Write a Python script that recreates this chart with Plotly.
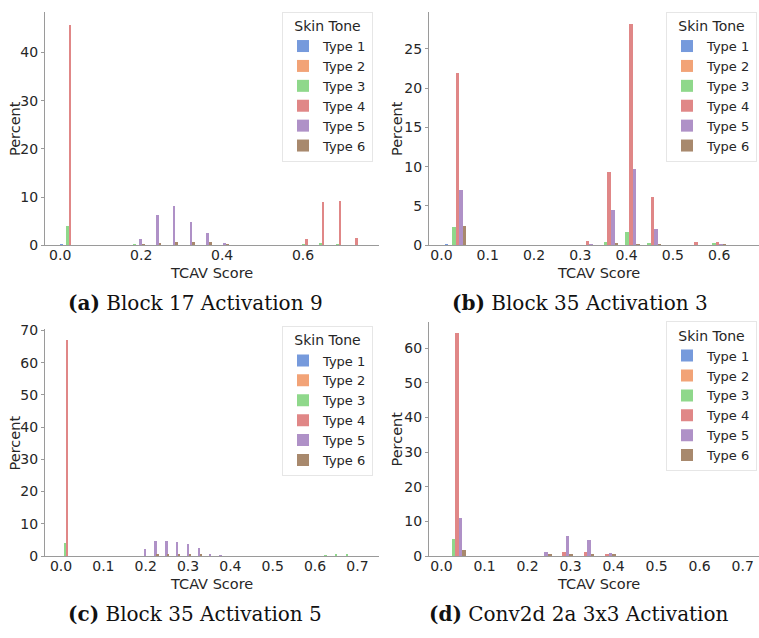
import numpy as np
import plotly.graph_objects as go

TYPES = ["Type 1", "Type 2", "Type 3", "Type 4", "Type 5", "Type 6"]
# seaborn "muted" palette drawn at alpha 0.75 on white
COLORS = ["#769adc", "#f2a377", "#8fd88b", "#e08787", "#af91c7", "#a8896d"]

# ---- Panel (a): Block 17 Activation 9 (18 bins) ----
A_START, A_WIDTH = 0.0, 0.04167
A_T1 = [0.2, 0, 0, 0, 0, 0, 0, 0, 0, 0, 0, 0, 0, 0, 0, 0, 0, 0]
A_T2 = [0, 0, 0, 0, 0, 0, 0, 0, 0, 0, 0, 0, 0, 0, 0, 0, 0, 0]
A_T3 = [4.1, 0, 0, 0, 0.1, 0, 0, 0, 0, 0, 0, 0, 0, 0, 0.2, 0.4, 0.3, 0]
A_T4 = [45.8, 0, 0, 0, 0, 0, 0, 0, 0, 0, 0, 0, 0, 0, 1.3, 9.0, 9.3, 1.5]
A_T5 = [0, 0, 0, 0, 1.3, 6.3, 8.1, 4.9, 2.5, 0.4, 0, 0, 0, 0, 0, 0, 0, 0]
A_T6 = [0, 0, 0, 0, 0.15, 0.5, 0.8, 0.6, 0.6, 0.2, 0, 0, 0, 0, 0, 0, 0, 0]

# ---- Panel (b): Block 35 Activation 3 (14 bins) ----
B_START, B_WIDTH = 0.0073, 0.0468
B_T1 = [0.1, 0, 0, 0, 0, 0, 0, 0, 0, 0, 0, 0, 0, 0]
B_T2 = [0, 0, 0, 0, 0, 0, 0, 0, 0, 0, 0, 0, 0, 0]
B_T3 = [2.3, 0, 0, 0, 0, 0, 0, 0.4, 1.7, 0.3, 0, 0, 0.25, 0]
B_T4 = [22.0, 0, 0, 0, 0, 0, 0.5, 9.3, 28.2, 6.2, 0, 0.4, 0.4, 0]
B_T5 = [7.0, 0, 0, 0, 0, 0, 0.2, 4.5, 9.7, 2.1, 0, 0, 0.15, 0]
B_T6 = [2.5, 0, 0, 0, 0, 0, 0, 0.3, 0.15, 0.05, 0, 0, 0.1, 0]

# ---- Panel (c): Block 35 Activation 5 (28 bins) ----
C_START, C_WIDTH = 0.0, 0.0256
C_T1 = [0] * 28
C_T2 = [0] * 28
C_T3 = [4.0, 0, 0, 0, 0, 0, 0, 0, 0, 0, 0, 0, 0, 0, 0, 0, 0, 0, 0, 0, 0, 0, 0, 0, 0.15, 0.3, 0.3, 0]
C_T4 = [67.0, 0, 0, 0, 0, 0, 0, 0, 0, 0, 0, 0, 0, 0, 0, 0, 0, 0, 0, 0, 0, 0, 0, 0, 0, 0, 0, 0]
C_T5 = [0, 0, 0, 0, 0, 0, 0, 2.1, 4.6, 4.6, 4.2, 3.8, 2.5, 0.7, 0.2, 0, 0, 0, 0, 0, 0, 0, 0, 0, 0, 0, 0, 0]
C_T6 = [0, 0, 0, 0, 0, 0, 0, 0, 0.3, 0.3, 0.3, 0.3, 0.3, 0, 0, 0, 0, 0, 0, 0, 0, 0, 0, 0, 0, 0, 0, 0]

# ---- Panel (d): Conv2d 2a 3x3 Activation (14 bins) ----
D_START, D_WIDTH = 0.007, 0.0498
D_T1 = [0] * 14
D_T2 = [0] * 14
D_T3 = [4.8, 0, 0, 0, 0, 0, 0, 0, 0, 0, 0, 0, 0, 0]
D_T4 = [64.2, 0, 0, 0, 0, 1.0, 1.0, 0.3, 0, 0, 0, 0, 0, 0]
D_T5 = [11.0, 0, 0, 0, 1.1, 5.7, 4.5, 0.9, 0, 0, 0, 0, 0, 0]
D_T6 = [1.6, 0, 0, 0, 0.2, 0.6, 0.3, 0.2, 0, 0, 0, 0, 0, 0]

CAPTIONS = ["<b>(a)</b> Block 17 Activation 9", "<b>(b)</b> Block 35 Activation 3",
            "<b>(c)</b> Block 35 Activation 5", "<b>(d)</b> Conv2d 2a 3x3 Activation"]
X_TITLE = "TCAV Score"
Y_TITLE = "Percent"

W, H = 759, 638
TXT = "#262626"
SPINE = "#9a9a9a"
TICK_SIZE = 14

panels = [
    dict(start=A_START, width=A_WIDTH, series=[A_T1, A_T2, A_T3, A_T4, A_T5, A_T6],
         xpx=(45, 379), ypx=(5, 244), xr=[-0.0375, 0.7875], yr=[0, 48.4],
         xt=[0, 0.2, 0.4, 0.6], yt=[0, 10, 20, 30, 40], leg=(373, 5),
         cap=(195, 303), xtit=(212, 272), ytit=(15, 125)),
    dict(start=B_START, width=B_WIDTH, series=[B_T1, B_T2, B_T3, B_T4, B_T5, B_T6],
         xpx=(429, 759), ypx=(5, 244), xr=[-0.0268, 0.686], yr=[0, 29.7],
         xt=[0, 0.1, 0.2, 0.3, 0.4, 0.5, 0.6], yt=[0, 5, 10, 15, 20, 25], leg=(757, 5),
         cap=(580, 303), xtit=(598, 272), ytit=(397, 125)),
    dict(start=C_START, width=C_WIDTH, series=[C_T1, C_T2, C_T3, C_T4, C_T5, C_T6],
         xpx=(45, 379), ypx=(330, 562.3), xr=[-0.0378, 0.751], yr=[0, 70.35],
         xt=[0, 0.1, 0.2, 0.3, 0.4, 0.5, 0.6, 0.7], yt=[0, 10, 20, 30, 40, 50, 60, 70], leg=(373, 327),
         cap=(195, 622), xtit=(212, 591), ytit=(15, 447)),
    dict(start=D_START, width=D_WIDTH, series=[D_T1, D_T2, D_T3, D_T4, D_T5, D_T6],
         xpx=(429, 759), ypx=(323, 562.3), xr=[-0.029, 0.738], yr=[0, 67.4],
         xt=[0, 0.1, 0.2, 0.3, 0.4, 0.5, 0.6, 0.7], yt=[0, 10, 20, 30, 40, 50, 60], leg=(757, 322),
         cap=(579, 622), xtit=(598, 591), ytit=(397, 443)),
]

fig = go.Figure()
layout = dict(width=W, height=H, margin=dict(l=0, r=0, t=0, b=0),
              paper_bgcolor="white", plot_bgcolor="white",
              barmode="group", bargap=0, bargroupgap=0,
              font=dict(family="DejaVu Sans", color=TXT, size=14),
              annotations=[])

for i, p in enumerate(panels):
    k = i + 1
    xa = "x" if k == 1 else f"x{k}"
    ya = "y" if k == 1 else f"y{k}"
    lg = "legend" if k == 1 else f"legend{k}"
    n = len(p["series"][0])
    centers = p["start"] + (np.arange(n) + 0.5) * p["width"]
    for t, (name, col, vals) in enumerate(zip(TYPES, COLORS, p["series"])):
        fig.add_trace(go.Bar(x=centers, y=vals, name=name, xaxis=xa, yaxis=ya,
                             marker=dict(color=col, line=dict(width=0)),
                             legend=lg, showlegend=True))
    x0, x1 = p["xpx"]
    y0, y1 = p["ypx"]
    layout["xaxis" + ("" if k == 1 else str(k))] = dict(
        domain=[x0 / W, x1 / W], range=p["xr"], anchor=ya,
        tickvals=p["xt"], tickformat=".1f", showgrid=False, zeroline=False,
        showline=True, linecolor=SPINE, linewidth=1, ticks="", ticklabelstandoff=-3,
        tickfont=dict(size=TICK_SIZE))
    layout["yaxis" + ("" if k == 1 else str(k))] = dict(
        domain=[1 - y1 / H, 1 - y0 / H], range=p["yr"], anchor=xa,
        tickvals=p["yt"], showgrid=False, zeroline=False,
        showline=True, linecolor=SPINE, linewidth=1, ticks="outside", ticklen=3,
        tickcolor=SPINE, tickfont=dict(size=TICK_SIZE))
    lx, ly = p["leg"]
    layout[lg] = dict(x=lx / W, y=1 - ly / H, xanchor="right", yanchor="top",
                      bgcolor="white", bordercolor="#e6e6e6", borderwidth=1,
                      font=dict(size=13, color=TXT), itemwidth=30,
                      title=dict(text="Skin Tone", font=dict(size=14, color=TXT), side="top center"),
                      tracegroupgap=0)
    cx, cy = p["cap"]
    layout["annotations"].append(dict(
        text=CAPTIONS[i], x=cx / W, y=1 - cy / H, xref="paper", yref="paper",
        showarrow=False, xanchor="center", yanchor="middle",
        font=dict(family="DejaVu Serif", size=20, color="#111111")))
    tx, ty = p["xtit"]
    layout["annotations"].append(dict(
        text=X_TITLE, x=tx / W, y=1 - ty / H, xref="paper", yref="paper",
        showarrow=False, xanchor="center", yanchor="middle", font=dict(size=14.5, color=TXT)))
    yx, yy = p["ytit"]
    layout["annotations"].append(dict(
        text=Y_TITLE, x=yx / W, y=1 - yy / H, xref="paper", yref="paper", textangle=-90,
        showarrow=False, xanchor="center", yanchor="middle", font=dict(size=14.5, color=TXT)))

fig.update_layout(**layout)
fig.write_html("out.html")
